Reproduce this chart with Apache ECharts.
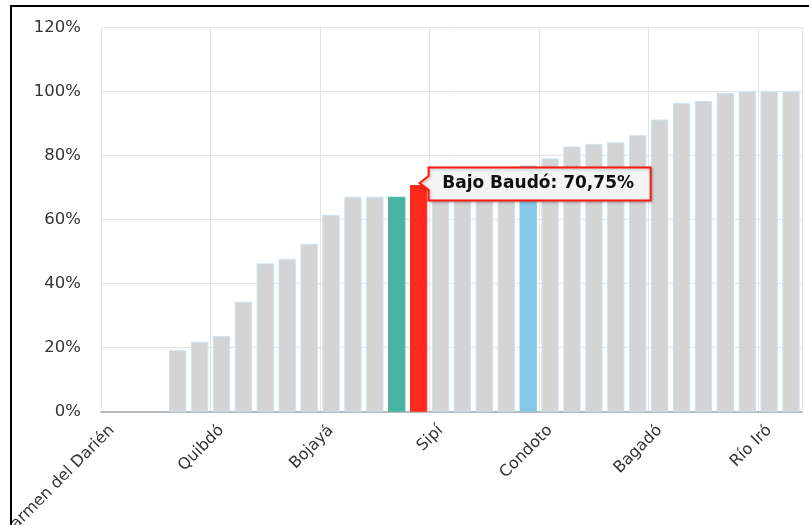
<!DOCTYPE html>
<html>
<head>
<meta charset="utf-8">
<script src="https://cdn.jsdelivr.net/npm/echarts@6/dist/echarts.min.js"></script>
<style>
  html, body { margin: 0; padding: 0; background: #fff; }
  body { width: 809px; height: 525px; position: relative; overflow: hidden; }
  #frame { position: absolute; left: 10px; top: 5px; width: 799px; height: 520px;
           border-left: 2px solid #000; border-top: 2px solid #000; overflow: hidden; }
  #chart { width: 797px; height: 518px; }
</style>
</head>
<body>
<div id="frame"><div id="chart"></div></div>
<script>
const categories = [
  'Carmen del Darién', 'Riosucio', 'Unguía', 'Acandí', 'Juradó',
  'Quibdó', 'Bahía Solano', 'Nuquí', 'El Carmen de Atrato', 'Lloró',
  'Bojayá', 'Medio Atrato', 'Atrato', 'Chocó', 'Bajo Baudó',
  'Sipí', 'Alto Baudó', 'Medio Baudó', 'Río Quito', 'Colombia',
  'Condoto', 'Tadó', 'Istmina', 'Nóvita', 'Medio San Juan',
  'Bagadó', 'Cértegui', 'Unión Panamericana', 'El Litoral del San Juan', 'San José del Palmar',
  'Río Iró', 'El Cantón del San Pablo'
];
const values = [
  0, 0, 0, 19.2, 21.8,
  23.6, 34.3, 46.3, 47.7, 52.4,
  61.4, 67.1, 67.1, 67.1, 70.75,
  71.3, 72.4, 73.6, 74.8, 76.8,
  79.1, 82.8, 83.6, 84.1, 86.3,
  91.2, 96.4, 97.0, 99.5, 100,
  100, 100
];
const yTicks = { min: 0, max: 120, step: 20 };
const tooltipIndex = 14;

const highlightColors = { 13: '#47b5a0', 14: '#ff2a1c', 19: '#86c7ea' };
const FONT = 'DejaVu Sans';

const seriesData = values.map((v, i) => {
  if (highlightColors[i]) {
    return { value: v, itemStyle: { color: highlightColors[i], borderColor: highlightColors[i] } };
  }
  if (v === 0) {
    return { value: v, itemStyle: { borderWidth: 0 } };
  }
  return v;
});

const tipText = categories[tooltipIndex] + ': ' + values[tooltipIndex].toFixed(2).replace('.', ',') + '%';

const chart = echarts.init(document.getElementById('chart'), null, { renderer: 'canvas' });
chart.setOption({
  animation: false,
  backgroundColor: '#fff',
  grid: { left: 89, right: 7, top: 20.3, bottom: 113.3, containLabel: false, outerBoundsMode: 'none' },
  xAxis: {
    type: 'category',
    data: categories,
    boundaryGap: true,
    axisLine: { lineStyle: { color: '#a3a8ab', width: 1.5 } },
    axisTick: { alignWithLabel: true, interval: 4, length: 5, lineStyle: { color: '#a3a8ab', width: 1.5 } },
    axisLabel: {
      interval: 4, rotate: 45, fontSize: 16, fontFamily: FONT, color: '#333',
      margin: 5, verticalAlign: 'top', padding: [0, 8, 0, 0], hideOverlap: false
    },
    splitLine: { show: true, interval: 4, lineStyle: { color: '#e4e4e4', width: 1 } }
  },
  yAxis: {
    type: 'value',
    min: yTicks.min, max: yTicks.max, interval: yTicks.step,
    axisLine: { show: false },
    axisTick: { show: false },
    axisLabel: { formatter: '{value}%', fontSize: 16.5, fontFamily: FONT, color: '#333', margin: 20 },
    splitLine: { lineStyle: { color: '#e4e4e4', width: 1 } }
  },
  series: [{
    type: 'bar',
    data: seriesData,
    barCategoryGap: '21%',
    itemStyle: { color: '#d4d4d4', borderColor: '#cde2ee', borderWidth: 1 },
    emphasis: { disabled: true },
    markPoint: {
      silent: true,
      symbol: 'path://M9,0L231,0L231,33L9,33L9,22.5L0,15.5L9,8.5Z',
      symbolSize: [231, 231],
      symbolKeepAspect: true,
      symbolOffset: [116.5, -1],
      itemStyle: {
        color: 'rgba(247,247,247,0.97)', borderColor: '#ff1a0e', borderWidth: 2,
        shadowBlur: 3, shadowColor: 'rgba(0,0,0,0.25)', shadowOffsetX: 1, shadowOffsetY: 1
      },
      label: {
        show: true, position: 'inside', formatter: tipText,
        fontFamily: FONT, fontWeight: 'bold', fontSize: 17, color: '#111', offset: [3, 0]
      },
      data: [{ coord: [tooltipIndex, values[tooltipIndex]], value: values[tooltipIndex] }]
    }
  }]
});
</script>
</body>
</html>
